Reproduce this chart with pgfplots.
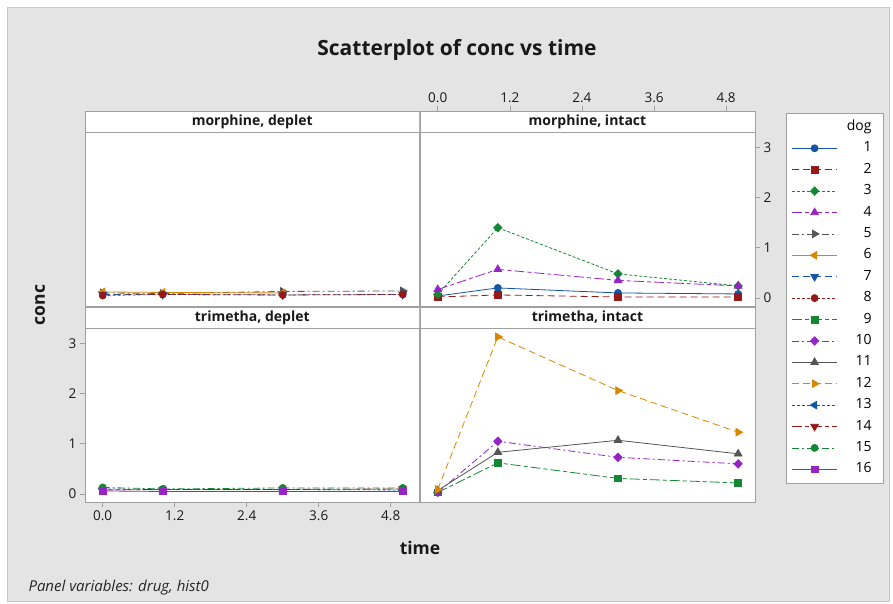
\documentclass[border=0pt]{standalone}
\usepackage{pgfplots}
\pgfplotsset{compat=1.18}
\usepackage{fontspec}
\setmainfont{Open Sans}

\definecolor{mb}{RGB}{20,85,165}
\definecolor{mr}{RGB}{150,25,25}
\definecolor{mg}{RGB}{20,135,50}
\definecolor{mp}{RGB}{150,35,195}
\definecolor{mk}{RGB}{85,85,85}
\definecolor{mo}{RGB}{215,135,0}
\definecolor{bg}{RGB}{228,228,228}
\definecolor{frame}{RGB}{160,160,160}

\tikzset{
  L1/.style={solid},
  L2/.style={dash pattern=on 7pt off 4pt},
  L3/.style={dash pattern=on 3pt off 2pt},
  L4/.style={dash pattern=on 10pt off 3pt on 4pt off 3pt},
  L5/.style={dash pattern=on 7pt off 3pt on 2pt off 3pt},
}

\pgfplotsset{
  dg/.style n args={5}{color=#1, mark=#2, #3, mark size=#5,
    mark options={solid, fill=#1, #4}},
  dog1/.style={dg={mb}{*}{L1}{}{3.5pt}},
  dog2/.style={dg={mr}{square*}{L2}{}{3.4pt}},
  dog3/.style={dg={mg}{diamond*}{L3}{xscale=1.3}{4.2pt}},
  dog4/.style={dg={mp}{triangle*}{L4}{}{4.4pt}},
  dog5/.style={dg={mk}{triangle*}{L5}{rotate=-90}{4.4pt}},
  dog6/.style={dg={mo}{triangle*}{L1}{rotate=90}{4.4pt}},
  dog7/.style={dg={mb}{triangle*}{L2}{rotate=180}{4.4pt}},
  dog8/.style={dg={mr}{*}{L3}{}{3.5pt}},
  dog9/.style={dg={mg}{square*}{L4}{}{3.4pt}},
  dog10/.style={dg={mp}{diamond*}{L5}{xscale=1.3}{4.2pt}},
  dog11/.style={dg={mk}{triangle*}{L1}{}{4.4pt}},
  dog12/.style={dg={mo}{triangle*}{L2}{rotate=-90}{4.4pt}},
  dog13/.style={dg={mb}{triangle*}{L3}{rotate=90}{4.4pt}},
  dog14/.style={dg={mr}{triangle*}{L4}{rotate=180}{4.4pt}},
  dog15/.style={dg={mg}{*}{L5}{}{3.5pt}},
  dog16/.style={dg={mp}{square*}{L1}{}{3.4pt}},
  panel/.style={
    scale only axis, width=334.5pt, height=195pt,
    xmin=-0.295, xmax=5.28, ymin=-0.16, ymax=3.725,
    axis line style={draw=frame},
    tick style={draw=frame, line width=0.6pt},
    tick align=outside, major tick length=5pt,
    xtick={0,1.2,2.4,3.6,4.8}, ytick={0,1,2,3},
    xticklabel style={/pgf/number format/.cd, fixed, fixed zerofill, precision=1},
    /pgf/number format/assume math mode=true,
    ticklabel style={font=\fontsize{13.5}{15}\selectfont, text=black!90},
    axis background/.style={fill=white},
    every axis plot/.append style={line width=0.8pt},
    anchor=south west,
  },
}
\newcommand\strip[1]{%
  \draw[frame, fill=white] (rel axis cs:0,0.8923) rectangle (rel axis cs:1,1);
  \node[font=\fontsize{14}{16}\selectfont\bfseries, text=black!90]
    at (rel axis cs:0.5,0.9462) {#1};}
\newcommand\dogentry[1]{\addlegendentry{\makebox[34pt][r]{#1}\kern6pt}}

\begin{document}
\begin{tikzpicture}
\fill[white] (0pt,0pt) rectangle (893pt,603pt);
\filldraw[fill=bg, draw=black!22] (7pt,2pt) rectangle (889pt,596pt);

% morphine, deplet
\begin{axis}[panel, at={(85pt,297pt)}, xtick=\empty, ytick=\empty]
\addplot[dog5] coordinates {(0,0.10) (1,0.09) (3,0.13) (5,0.14)};
\addplot[dog6] coordinates {(0,0.12) (1,0.11) (3,0.10)};
\addplot[dog7] coordinates {(0,0.07) (1,0.07) (3,0.06) (5,0.07)};
\addplot[dog8] coordinates {(0,0.05) (1,0.07) (3,0.06) (5,0.07)};
\strip{morphine, deplet}
\end{axis}

% morphine, intact
\begin{axis}[panel, at={(420pt,297pt)}, width=335pt,
  xtick pos=upper, xticklabel pos=upper, ytick pos=upper, yticklabel pos=upper,
  legend style={at={(1,1)}, anchor=north west, xshift=30.5pt, yshift=-2pt,
    draw=frame, fill=white, inner xsep=6pt, inner ysep=3pt, row sep=0pt,
    font=\fontsize{14}{16}\selectfont,
    nodes={inner xsep=0pt, inner ysep=4.2pt, text height=10pt, text depth=3pt}},
  legend cell align=left,
  legend image code/.code={\draw[mark repeat=2,mark phase=2]
    plot coordinates {(0pt,0pt) (22.5pt,0pt) (45pt,0pt)};}]
\addlegendimage{empty legend}\dogentry{dog}
\addlegendimage{dog1}\dogentry{1}
\addlegendimage{dog2}\dogentry{2}
\addlegendimage{dog3}\dogentry{3}
\addlegendimage{dog4}\dogentry{4}
\addlegendimage{dog5}\dogentry{5}
\addlegendimage{dog6}\dogentry{6}
\addlegendimage{dog7}\dogentry{7}
\addlegendimage{dog8}\dogentry{8}
\addlegendimage{dog9}\dogentry{9}
\addlegendimage{dog10}\dogentry{10}
\addlegendimage{dog11}\dogentry{11}
\addlegendimage{dog12}\dogentry{12}
\addlegendimage{dog13}\dogentry{13}
\addlegendimage{dog14}\dogentry{14}
\addlegendimage{dog15}\dogentry{15}
\addlegendimage{dog16}\dogentry{16}
\addplot[dog1, forget plot] coordinates {(0,0.04) (1,0.20) (3,0.10) (5,0.08)};
\addplot[dog2, forget plot] coordinates {(0,0.02) (1,0.06) (3,0.02) (5,0.02)};
\addplot[dog3, forget plot] coordinates {(0,0.07) (1,1.40) (3,0.48) (5,0.24)};
\addplot[dog4, forget plot] coordinates {(0,0.17) (1,0.57) (3,0.35) (5,0.24)};
\strip{morphine, intact}
\end{axis}

% trimetha, deplet
\begin{axis}[panel, at={(85pt,101pt)}, xtick pos=lower, ytick pos=lower]
\addplot[dog13] coordinates {(0,0.10) (1,0.09) (3,0.09) (5,0.08)};
\addplot[dog14] coordinates {(0,0.08) (1,0.09) (3,0.09) (5,0.10)};
\addplot[dog15] coordinates {(0,0.13) (1,0.10) (3,0.12) (5,0.12)};
\addplot[dog16] coordinates {(0,0.06) (1,0.05) (3,0.05) (5,0.05)};
\strip{trimetha, deplet}
\end{axis}

% trimetha, intact
\begin{axis}[panel, at={(420pt,101pt)}, width=335pt, xtick=\empty, ytick=\empty]
\addplot[dog9] coordinates {(0,0.03) (1,0.62) (3,0.31) (5,0.22)};
\addplot[dog10] coordinates {(0,0.03) (1,1.05) (3,0.73) (5,0.60)};
\addplot[dog11] coordinates {(0,0.07) (1,0.83) (3,1.07) (5,0.80)};
\addplot[dog12] coordinates {(0,0.09) (1,3.13) (3,2.06) (5,1.23)};
\strip{trimetha, intact}
\end{axis}

\node[font=\fontsize{21}{25}\selectfont\bfseries, text=black!90] at (457pt,553pt)
  {Scatterplot of conc vs time};
\node[font=\fontsize{17.5}{20}\selectfont\bfseries, text=black!90, rotate=90]
  at (40pt,298pt) {conc};
\node[font=\fontsize{17.5}{20}\selectfont\bfseries, text=black!90] at (420pt,55pt) {time};
\node[font=\fontsize{15}{17}\selectfont\itshape, text=black!85, anchor=west]
  at (25pt,15pt) {Panel variables: drug, hist0};
\end{tikzpicture}
\end{document}
